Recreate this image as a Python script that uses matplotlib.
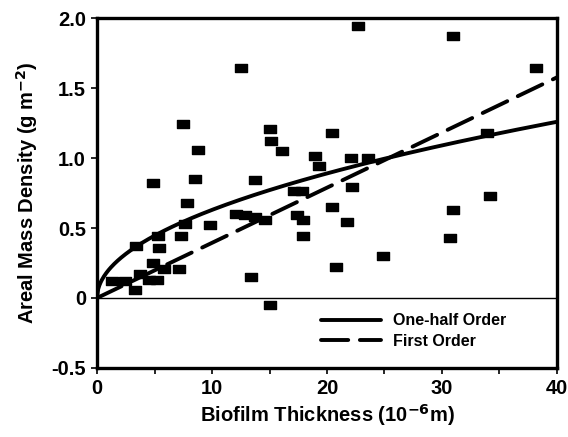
import numpy as np
import matplotlib
matplotlib.use("Agg")
import matplotlib.pyplot as plt
from matplotlib.path import Path

plt.rcParams['font.family'] = ['Liberation Sans', 'DejaVu Sans']
plt.rcParams['font.weight'] = 'bold'

# Data
thickness = [1.3, 2.4, 3.3, 3.4, 3.7, 4.5, 5.2, 4.9, 5.3, 5.4, 4.9, 5.8, 7.1, 7.3,
             7.65, 7.8, 7.45, 8.5, 8.75, 9.8, 12.1, 12.5, 12.9, 13.4, 13.7, 13.7,
             14.6, 15.0, 15.1, 15.0, 16.1, 17.1, 17.8, 17.4, 17.9, 17.9, 19.0, 19.3,
             20.4, 20.4, 20.8, 21.7, 22.1, 22.2, 22.7, 23.6, 24.9, 30.7, 31.0, 31.0,
             33.9, 34.2, 38.2]
density = [0.12, 0.12, 0.06, 0.37, 0.17, 0.13, 0.13, 0.25, 0.44, 0.36, 0.82, 0.21, 0.21, 0.44,
           0.53, 0.68, 1.24, 0.85, 1.06, 0.52, 0.60, 1.645, 0.59, 0.15, 0.58, 0.84,
           0.56, 1.21, 1.12, -0.05, 1.05, 0.765, 0.765, 0.59, 0.56, 0.44, 1.015, 0.94,
           0.65, 1.18, 0.22, 0.54, 1.0, 0.79, 1.94, 1.0, 0.30, 0.43, 0.63, 1.87,
           1.18, 0.73, 1.64]

half_order_k = 0.199
first_order_k = 0.0394
x_ticks = [0, 10, 20, 30, 40]
y_ticks = [-0.5, 0, 0.5, 1.0, 1.5, 2.0]
y_tick_labels = ['-0.5', '0', '0.5', '1.0', '1.5', '2.0']

fig = plt.figure(figsize=(5.68, 4.37), dpi=100)
ax = fig.add_axes([0.1708, 0.1579, 0.8098, 0.8009])

xs = np.linspace(0, 40, 400)
ax.axhline(0, color='black', lw=1.0, zorder=1)
ax.plot(xs, half_order_k * np.sqrt(xs), color='black', lw=2.8,
        solid_capstyle='round', label='One-half Order', zorder=3)
ax.plot(xs, first_order_k * xs, color='black', lw=2.8, dashes=(7, 3),
        dash_capstyle='round', label='First Order', zorder=3)

rect = Path([(-1, -0.72), (1, -0.72), (1, 0.72), (-1, 0.72), (-1, -0.72)],
            [Path.MOVETO, Path.LINETO, Path.LINETO, Path.LINETO, Path.CLOSEPOLY])
ax.plot(thickness, density, linestyle='none', marker=rect, markersize=8.5,
        color='black', zorder=4)

ax.set_xlim(0, 40)
ax.set_ylim(-0.5, 2.0)
ax.set_xticks(x_ticks)
ax.set_xticks([5, 15, 25, 35], minor=True)
ax.set_yticks(y_ticks)
ax.set_yticklabels(y_tick_labels)
ax.tick_params(axis='both', which='both', direction='out', length=4, width=1.2,
               labelsize=14.5, pad=4)
ax.tick_params(axis='x', pad=4)
for lab in ax.get_xticklabels() + ax.get_yticklabels():
    lab.set_fontweight('bold')
for s in ax.spines.values():
    s.set_linewidth(2.4)

ax.set_xlabel(r'Biofilm Thickness (10$^{\mathbf{-6}}$m)', fontsize=14.5,
              fontweight='bold', labelpad=3)
ax.set_ylabel(r'Areal Mass Density (g m$^{\mathbf{-2}}$)', fontsize=14.5,
              fontweight='bold', labelpad=8)

leg = ax.legend(loc='lower right', bbox_to_anchor=(0.92, 0.014), frameon=False,
                handlelength=3.8, handletextpad=0.7,
                labelspacing=0.35, prop={'weight': 'bold', 'size': 11.5})

fig.savefig('out.png', dpi=100)
